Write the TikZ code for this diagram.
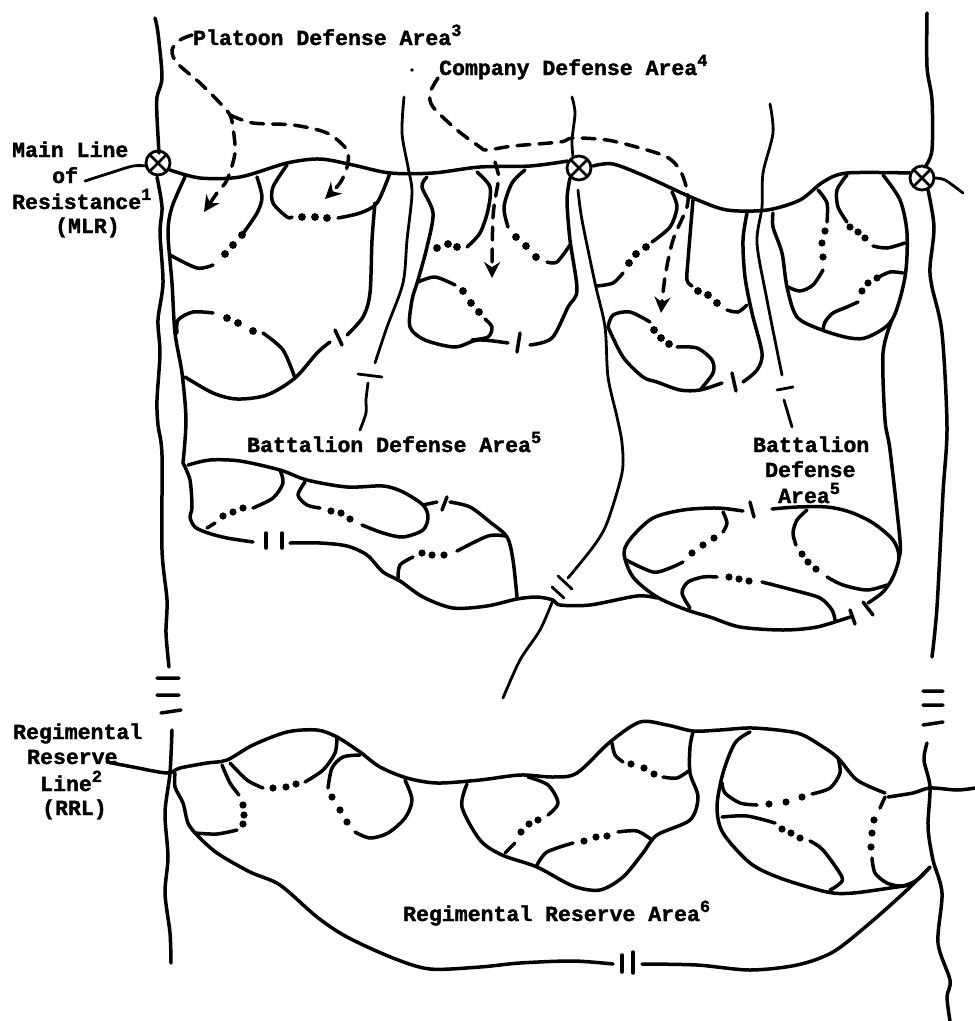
\documentclass[tikz,border=0pt]{standalone}
\usepackage{fontspec}
\setmainfont{Liberation Mono}[BoldFeatures={FakeBold=1.6}]
\usetikzlibrary{arrows.meta}
\newcommand{\supnum}[1]{\raisebox{.42em}{\fontsize{17}{17}\selectfont #1}}

\begin{document}
\begin{tikzpicture}[
  x=1pt, y=-1pt,
  front/.style={line width=3.5pt, line cap=round, line join=round},
  sector/.style={line width=2.8pt, line cap=round, line join=round},
  route/.style={line width=3.5pt, line cap=round, dash pattern=on 13pt off 9pt, -{Stealth[length=16pt, width=16pt]}},
  areatext/.style={anchor=base west, inner sep=0pt, font=\fontsize{21.5}{24}\selectfont\bfseries},
]
  \useasboundingbox (0,0) rectangle (975,1021);
  \fill[white] (0,0) rectangle (975,1021);

  % Regimental boundaries
  \draw[front] plot[smooth] coordinates {(155,18) (158,33) (162,77) (157,97) (157,117) (159,153)};
  \draw[front] plot[smooth] coordinates {(157,177) (162,207) (160,233) (163,283) (158,320) (160,353) (157,400) (158,425) (162,455) (162,550) (167,600) (166,633) (169,667)};
  \draw[front] plot[smooth] coordinates {(172,730) (170,773) (165,813) (168,857) (165,893) (170,933) (171,963)};
  \draw[front] plot[smooth] coordinates {(927,13) (927,67) (932,100) (932,150) (925,167)};
  \draw[front] plot[smooth] coordinates {(928,190) (934,227) (930,267) (932,287) (942,333) (947,427) (943,493) (937,607) (932,657)};
  \draw[front] plot[smooth] coordinates {(927,743) (924,760) (930,787) (928,827) (933,860) (942,893) (938,943) (950,980) (947,997) (950,1021)};
  \draw[front] (157,678) -- (179,678) (157,695) -- (179,695) (161,713) -- (181,710);
  \draw[front] (923,691) -- (943,691) (923,705) -- (943,705) (923,725) -- (943,722);

  % Main line of resistance and its limiting points
  \draw[sector] plot[smooth] coordinates {(85,181) (110,173) (133,166) (147,166)};
  \draw[front] plot[smooth] coordinates {(170,170) (200,178) (240,177) (287,163) (320,159) (353,165) (390,173) (433,173) (480,167) (530,166) (568,161)};
  \draw[front] plot[smooth] coordinates {(593,166) (613,164) (647,177) (693,198) (727,210) (767,210) (800,200) (823,182) (847,173) (910,173)};
  \draw[sector] plot[smooth] coordinates {(934,178) (945,180) (963,193)};
  \foreach \mx/\my in {158/163, 579/168, 922/178} {
    \draw[sector] (\mx,\my) circle (12);
    \draw[sector] (\mx-7,\my-7) -- (\mx+7,\my+7) (\mx-7,\my+7) -- (\mx+7,\my-7);
  }

  % Battalion and company boundaries, upper part
  \draw[sector] plot[smooth] coordinates {(404,97) (402,133) (408,167) (412,193) (407,240) (403,283) (387,327) (375,363)};
  \draw[sector] (358,374) -- (382,377);
  \draw[sector] plot[smooth] coordinates {(368,383) (366,400) (366,413) (360,430)};
  \draw[sector] plot[smooth] coordinates {(572,97) (575,113) (572,140) (573,157)};
  \draw[sector] plot[smooth] coordinates {(578,190) (582,220) (595,283) (605,327) (608,377) (617,417) (622,443) (622,473) (607,523) (593,547) (568,578)};
  \draw[sector] (558,576) -- (572,589) (552,587) -- (564,598);
  \draw[sector] plot[smooth] coordinates {(553,600) (540,630) (520,660) (503,698)};
  \draw[sector] plot[smooth] coordinates {(770,104) (773,133) (763,173) (762,207) (757,243) (767,300) (782,375)};
  \draw[sector] (777,390) -- (793,387);
  \draw[sector] plot[smooth] coordinates {(784,400) (792,427)};

  % Left company
  \draw[front] plot[smooth] coordinates {(185,177) (172,207) (168,233) (172,283) (175,333) (182,373) (186,420) (183,463)};
  \draw[front] plot[smooth] coordinates {(170,255) (197,268) (213,265)};
  \draw[front] plot[smooth] coordinates {(242,235) (257,213) (262,197) (257,177)};
  \draw[front] plot[smooth] coordinates {(287,165) (273,187) (273,203) (287,217) (292,217)};
  \draw[front] plot[smooth] coordinates {(338,218) (360,213) (377,203) (390,173)};
  \draw[front] plot[smooth] coordinates {(375,203) (372,240) (370,293) (363,317) (347,335)};
  \draw[front] (335,330) -- (342,345);
  \draw[front] plot[smooth] coordinates {(330,342) (317,353) (295,378) (267,395) (237,399) (213,393) (185,377)};
  \draw[front] plot[smooth] coordinates {(177,333) (178,320) (193,312) (213,313)};
  \draw[front] plot[smooth] coordinates {(263,333) (283,350) (295,378)};
  \foreach \dx/\dy in {225/254, 233/245, 242/235, 302/217, 315/217, 327/218, 227/318, 238/323, 253/331}
    \fill (\dx,\dy) circle (3.9);

  % Middle company
  \draw[front] plot[smooth] coordinates {(427,177) (422,187) (433,213) (427,247) (418,280) (412,300) (410,327) (425,340) (455,347) (478,340) (508,343)};
  \draw[front] (520,333) -- (517,352);
  \draw[front] plot[smooth] coordinates {(530,345) (552,338) (568,307) (577,290) (570,240) (567,200) (570,178)};
  \draw[front] plot[smooth] coordinates {(477,172) (490,187) (488,210) (480,233) (467,247)};
  \draw[front] plot[smooth] coordinates {(525,170) (512,183) (504,207) (508,227)};
  \draw[front] plot[smooth] coordinates {(547,262) (557,262) (570,245)};
  \draw[front] plot[smooth] coordinates {(418,282) (435,277) (455,285)};
  \draw[front] plot[smooth] coordinates {(485,319) (492,327) (488,337) (472,340)};
  \foreach \dx/\dy in {457/247, 448/244, 437/248, 516/237, 526/246, 536/257, 463/291, 471/303, 479/312}
    \fill (\dx,\dy) circle (3.9);

  % Centre company
  \draw[front] plot[smooth] coordinates {(693,200) (688,260) (687,280) (692,286)};
  \draw[front] plot[smooth] coordinates {(727,310) (738,312) (747,305)};
  \draw[front] plot[smooth] coordinates {(747,213) (743,240) (745,277) (752,313) (762,353) (757,370) (743,382)};
  \draw[front] (732,373) -- (736,391);
  \draw[front] plot[smooth] coordinates {(722,383) (700,390) (680,390) (657,382) (643,377) (623,357) (608,327)};
  \draw[front] plot[smooth] coordinates {(608,327) (613,315) (630,312) (650,322)};
  \draw[front] plot[smooth] coordinates {(677,347) (697,348) (712,360) (713,373) (700,390)};
  \draw[front] plot[smooth] coordinates {(672,192) (677,207) (670,227) (652,242)};
  \draw[front] plot[smooth] coordinates {(623,273) (613,283) (597,286)};
  \foreach \dx/\dy in {698/291, 708/295, 717/303, 654/330, 661/338, 669/344, 646/247, 636/254, 629/263}
    \fill (\dx,\dy) circle (3.9);

  % Right company
  \draw[front] plot[smooth] coordinates {(773,213) (773,227) (782,253) (787,287) (797,317) (822,330) (850,338) (868,337) (892,320) (905,277) (907,233) (900,200) (883,175)};
  \draw[front] plot[smooth] coordinates {(892,320) (883,353) (885,420) (890,450) (900,540) (899,557)};
  \draw[front] plot[smooth] coordinates {(818,190) (827,203) (827,222)};
  \draw[front] plot[smooth] coordinates {(823,270) (813,285) (800,291) (788,287)};
  \draw[front] plot[smooth] coordinates {(847,175) (837,190) (838,207) (847,222)};
  \draw[front] plot[smooth] coordinates {(873,246) (887,248) (905,243)};
  \draw[front] plot[smooth] coordinates {(903,273) (890,272) (877,278)};
  \draw[front] plot[smooth] coordinates {(858,302) (847,307) (833,313) (825,322) (823,330)};
  \foreach \dx/\dy in {825/231, 822/243, 823/257, 850/227, 858/232, 865/238, 877/278, 868/283, 862/291}
    \fill (\dx,\dy) circle (3.6);

  % Left battalion reserve
  \draw[front] plot[smooth] coordinates {(188,465) (210,460) (240,461) (280,470) (307,480) (347,487) (383,486) (403,492) (423,505) (428,517) (423,530) (403,537) (383,533) (362,525)};
  \draw[front] plot[smooth] coordinates {(320,508) (307,505) (298,495) (305,482)};
  \draw[front] plot[smooth] coordinates {(280,470) (283,483) (273,498) (253,508)};
  \draw[front] plot[smooth] coordinates {(215,523) (207,528)};
  \draw[front] plot[smooth] coordinates {(183,463) (190,480) (192,507) (190,517) (195,527) (208,533) (227,538) (253,542)};
  \draw[front] (266,533) -- (266,548) (282,533) -- (282,548);
  \draw[front] plot[smooth] coordinates {(290,543) (320,543) (347,546) (367,555) (383,572) (400,581) (423,597) (453,608) (487,606) (517,599) (537,597) (553,600) (560,605) (590,605) (637,596) (657,598)};
  \draw[front] (423,505) -- (437,502);
  \draw[front] (447,497) -- (442,510);
  \draw[front] plot[smooth] coordinates {(450,502) (470,507) (490,522) (507,537) (513,560) (517,597)};
  \draw[front] plot[smooth] coordinates {(505,536) (488,536) (457,551)};
  \draw[front] plot[smooth] coordinates {(413,557) (400,565) (398,578)};
  \foreach \dx/\dy in {350/519, 341/513, 331/511, 243/508, 233/512, 223/516, 444/555, 432/555, 422/553}
    \fill (\dx,\dy) circle (3.6);

  % Right battalion reserve
  \draw[front] plot[smooth] coordinates {(743,511) (717,508) (683,510) (653,518) (632,537) (624,553) (633,577) (657,597) (687,610) (710,617) (740,627) (783,630) (817,627) (850,617)};
  \draw[front] (750,502) -- (754,517) (850,610) -- (855,624) (863,602) -- (873,615);
  \draw[front] plot[smooth] coordinates {(868,603) (883,592) (893,577) (899,557) (893,540) (873,523) (850,512) (827,507) (797,507) (772,509)};
  \draw[front] plot[smooth] coordinates {(723,512) (727,523) (723,532)};
  \draw[front] plot[smooth] coordinates {(683,562) (670,568) (653,572) (626,560)};
  \draw[front] plot[smooth] coordinates {(807,510) (797,520) (793,533) (796,545)};
  \draw[front] plot[smooth] coordinates {(827,577) (843,585) (867,590) (887,585)};
  \draw[front] plot[smooth] coordinates {(690,608) (682,593) (688,582) (703,577) (717,577)};
  \draw[front] plot[smooth] coordinates {(762,582) (793,590) (820,598) (832,610) (835,620)};
  \foreach \dx/\dy in {714/538, 703/545, 692/553, 802/554, 808/562, 816/569, 729/577, 739/579, 749/581}
    \fill (\dx,\dy) circle (3.6);

  % Regimental reserve line and outer limit
  \draw[front] plot[smooth] coordinates {(107,762) (133,767) (167,773) (180,768) (207,763) (227,760) (253,745) (287,732) (317,730) (337,737) (360,752) (380,767) (407,778) (437,783) (480,780) (520,775) (553,777) (577,773) (610,742) (640,722) (667,725) (693,731) (720,730) (753,728) (797,733) (820,745) (838,758) (857,780) (885,793)};
  \draw[front] plot[smooth] coordinates {(888,797) (913,793) (930,788) (957,790) (975,788)};
  \draw[front] plot[smooth] coordinates {(175,773) (175,787) (183,803) (188,823) (197,835) (217,853) (250,872) (280,885) (317,917) (347,937) (393,958) (430,969) (480,967) (520,963) (573,961) (613,964)};
  \draw[front] (622,955) -- (622,972) (633,952) -- (633,973);
  \draw[front] plot[smooth] coordinates {(642,964) (697,965) (750,970) (797,965) (833,952) (870,923) (907,890) (930,867)};

  % Reserve platoons
  \draw[front] plot[smooth] coordinates {(195,833) (217,834) (237,830)};
  \draw[front] plot[smooth] coordinates {(239,795) (230,783) (222,765)};
  \draw[front] plot[smooth] coordinates {(230,763) (247,780) (263,788)};
  \draw[front] plot[smooth] coordinates {(305,782) (323,770) (335,753) (337,737)};
  \draw[front] plot[smooth] coordinates {(360,755) (343,757) (332,768) (328,788)};
  \draw[front] plot[smooth] coordinates {(355,832) (370,838) (388,833) (405,818) (412,800) (405,780)};
  \draw[front] plot[smooth] coordinates {(528,777) (548,785) (558,803) (548,815)};
  \draw[front] plot[smooth] coordinates {(515,843) (505,853)};
  \draw[front] plot[smooth] coordinates {(467,784) (462,807) (480,840) (502,855) (537,867) (573,886) (600,890) (623,877) (643,853) (657,835) (690,820) (698,797) (690,773) (690,747) (693,732)};
  \draw[front] plot[smooth] coordinates {(537,865) (547,852) (573,843)};
  \draw[front] plot[smooth] coordinates {(618,832) (637,831) (652,840)};
  \draw[front] plot[smooth] coordinates {(612,743) (615,755) (623,762)};
  \draw[front] plot[smooth] coordinates {(663,777) (677,778) (690,770)};
  \draw[front] plot[smooth] coordinates {(750,732) (735,743) (723,773) (717,807) (723,833) (750,863) (780,878) (827,892) (853,893) (897,887) (910,885)};
  \draw[front] plot[smooth] coordinates {(838,758) (840,773) (830,788) (812,794)};
  \draw[front] plot[smooth] coordinates {(757,805) (740,803) (725,793) (722,783)};
  \draw[front] plot[smooth] coordinates {(722,817) (747,816) (775,823)};
  \draw[front] plot[smooth] coordinates {(810,841) (823,850) (842,877) (838,885) (830,890)};
  \draw[front] plot[smooth] coordinates {(885,797) (880,808)};
  \draw[front] plot[smooth] coordinates {(872,858) (875,873) (887,883) (902,886) (917,880) (930,867)};
  \foreach \dx/\dy in {243/824, 244/815, 243/805, 273/788, 286/787, 296/784, 332/797, 340/810, 347/822,
      538/820, 529/824, 521/832, 584/841, 596/837, 607/836, 631/764, 644/768, 654/774,
      802/797, 786/802, 769/804, 782/829, 791/833, 800/838, 874/820, 872/833, 871/847}
    \fill (\dx,\dy) circle (3.6);

  % Dashed leaders
  \draw[route] plot[smooth] coordinates {(192,35) (180,40) (172,50) (177,63) (200,83) (220,103) (230,115) (233,128) (235,153) (227,180) (217,193) (204,212)};
  \draw[route] plot[smooth] coordinates {(230,115) (253,123) (293,125) (327,133) (347,150) (347,167) (340,183) (325,199)};
  \draw[route] plot[smooth] coordinates {(438,78) (430,93) (433,107) (457,130) (480,147) (487,150) (513,146) (560,142) (573,138) (607,140) (640,148) (667,157) (680,170) (687,190) (687,207) (673,240) (665,277) (661,313)};
  \draw[route] plot[smooth] coordinates {(495,162) (499,177) (498,183) (493,217) (492,278)};

  % Labels
  \node[areatext] (platoonText) at (193,45) {Platoon Defense Area\supnum{3}};
  \node[areatext] (companyText) at (439,75) {Company Defense Area\supnum{4}};
  \node[areatext] (mlrA) at (12,157) {Main Line};
  \node[areatext] (mlrB) at (52,183) {of};
  \node[areatext] (mlrC) at (12,209) {Resistance\supnum{1}};
  \node[areatext] (mlrD) at (55,233) {(MLR)};
  \node[areatext] (battalionLeft) at (247,452) {Battalion Defense Area\supnum{5}};
  \node[areatext] (battalionA) at (753,452) {Battalion};
  \node[areatext] (battalionB) at (765,477) {Defense};
  \node[areatext] (battalionC) at (778,503) {Area\supnum{5}};
  \node[areatext] (rrlA) at (13,739) {Regimental};
  \node[areatext] (rrlB) at (27,764) {Reserve};
  \node[areatext] (rrlC) at (40,791) {Line\supnum{2}};
  \node[areatext] (rrlD) at (42,815) {(RRL)};
  \node[areatext] (reserveText) at (403,921) {Regimental Reserve Area\supnum{6}};
  \fill (412,70) circle (1.8);
\end{tikzpicture}
\end{document}
